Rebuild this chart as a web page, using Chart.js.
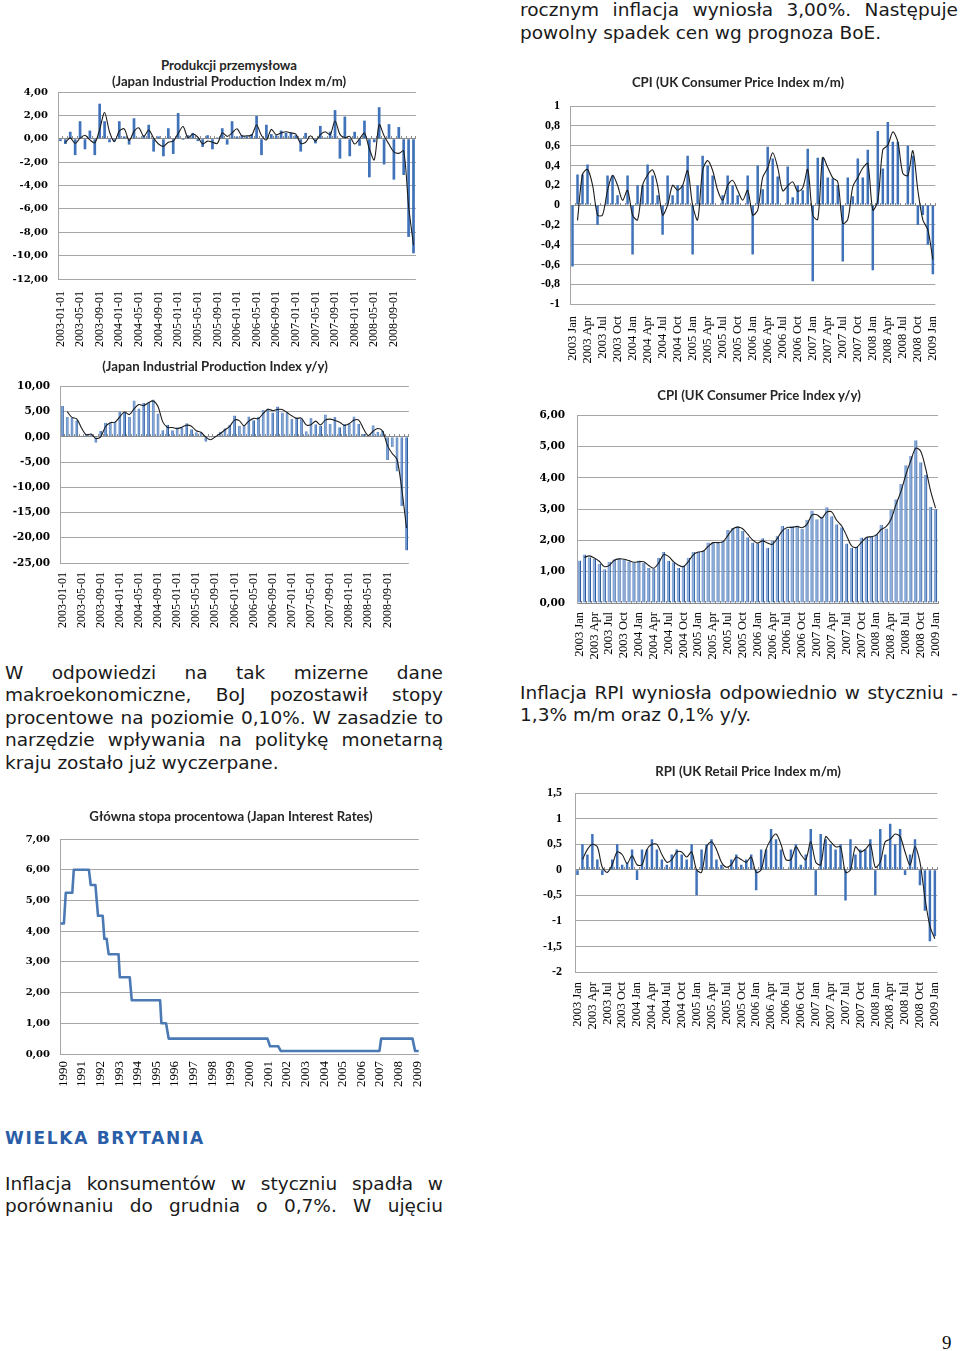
<!DOCTYPE html>
<html><head><meta charset="utf-8">
<script src="https://cdn.jsdelivr.net/npm/chart.js@4.4.1/dist/chart.umd.min.js"></script>
<style>
html,body{margin:0;padding:0;background:#fff;width:960px;height:1351px;overflow:hidden;position:relative;}
canvas{position:absolute;}
.t{position:absolute;font-family:'DejaVu Sans',Verdana,sans-serif;font-size:18.5px;line-height:22.5px;color:#1a1a1a;white-space:nowrap;}
.j{text-align:justify;text-align-last:justify;white-space:normal;}
.ct{position:absolute;font-family:Lato,'Open Sans',sans-serif;font-weight:bold;font-size:13.2px;line-height:16px;color:#262626;white-space:nowrap;transform:translateX(-50%);z-index:2;}
.h{position:absolute;font-family:'DejaVu Sans',Verdana,sans-serif;font-weight:bold;font-size:17px;line-height:22.5px;letter-spacing:1.7px;color:#2a5ea8;}
.pn{position:absolute;font-family:'Liberation Serif','Times New Roman',serif;font-size:19px;line-height:22px;color:#111;}
</style></head>
<body>
<div class="t j" style="left:520px;top:-1px;width:438px;">rocznym inflacja wyniosła 3,00%. Następuje</div>
<div class="t" style="left:520px;top:21.5px;">powolny spadek cen wg prognoza BoE.</div>

<div class="t j" style="left:5px;top:661.5px;width:438px;">W odpowiedzi na tak mizerne dane</div>
<div class="t j" style="left:5px;top:684px;width:438px;">makroekonomiczne, BoJ pozostawił stopy</div>
<div class="t j" style="left:5px;top:706.5px;width:438px;">procentowe na poziomie 0,10%. W zasadzie to</div>
<div class="t j" style="left:5px;top:729px;width:438px;">narzędzie wpływania na politykę monetarną</div>
<div class="t" style="left:5px;top:751.5px;">kraju zostało już wyczerpane.</div>

<div class="t j" style="left:520px;top:681.5px;width:438px;">Inflacja RPI wyniosła odpowiednio w styczniu -</div>
<div class="t" style="left:520px;top:704px;">1,3% m/m oraz 0,1% y/y.</div>

<div class="h" style="left:5px;top:1127px;">WIELKA BRYTANIA</div>
<div class="t j" style="left:5px;top:1172.5px;width:438px;">Inflacja konsumentów w styczniu spadła w</div>
<div class="t j" style="left:5px;top:1195px;width:438px;">porównaniu do grudnia o 0,7%. W ujęciu</div>
<div class="pn" style="left:942px;top:1332px;">9</div>

<div class="ct" style="left:229px;top:57px;">Produkcji przemysłowa</div>
<div class="ct" style="left:229px;top:73px;">(Japan Industrial Production Index m/m)</div>
<div class="ct" style="left:215px;top:358px;">(Japan Industrial Production Index y/y)</div>
<div class="ct" style="left:231px;top:808px;">Główna stopa procentowa (Japan Interest Rates)</div>
<div class="ct" style="left:738px;top:74px;">CPI (UK Consumer Price Index m/m)</div>
<div class="ct" style="left:759px;top:387px;">CPI (UK Consumer Price Index y/y)</div>
<div class="ct" style="left:748px;top:763px;">RPI (UK Retail Price Index m/m)</div>

<canvas id="c1"></canvas>
<canvas id="c2"></canvas>
<canvas id="c3"></canvas>
<canvas id="c4"></canvas>
<canvas id="c5"></canvas>
<canvas id="c6"></canvas>

<script>
// ---------- DATA ----------
const jpTickLabels = ['2003-01-01','2003-05-01','2003-09-01','2004-01-01','2004-05-01','2004-09-01','2005-01-01','2005-05-01','2005-09-01','2006-01-01','2006-05-01','2006-09-01','2007-01-01','2007-05-01','2007-09-01','2008-01-01','2008-05-01','2008-09-01'];
const ukTickLabels = ['2003 Jan','2003 Apr','2003 Jul','2003 Oct','2004 Jan','2004 Apr','2004 Jul','2004 Oct','2005 Jan','2005 Apr','2005 Jul','2005 Oct','2006 Jan','2006 Apr','2006 Jul','2006 Oct','2007 Jan','2007 Apr','2007 Jul','2007 Oct','2008 Jan','2008 Apr','2008 Jul','2008 Oct','2009 Jan'];
const monthNames = ['Jan','Feb','Mar','Apr','May','Jun','Jul','Aug','Sep','Oct','Nov','Dec'];

// Japan Industrial Production Index m/m, 2003-01 .. 2009-01
const jpIndustrialMoM = [-0.2,-0.45,0.6,-1.4,1.5,-0.9,0.7,-1.4,3.0,1.5,-0.3,-0.2,1.5,0.2,-0.5,1.75,0.1,0.3,1.2,-1.1,0.2,-1.5,0.9,-1.3,2.2,-0.1,0.3,0.5,-0.2,-0.7,0.3,-0.9,0.1,0.9,-0.5,1.5,0.2,0.3,0.2,0.4,1.95,-1.4,1.2,0.4,0.3,0.7,0.5,0.5,0.3,-1.1,0.5,0.0,-0.4,1.1,0.1,0.6,2.45,-1.7,1.9,-1.5,0.6,-0.6,1.55,-3.3,-0.3,2.7,-2.2,1.25,-3.5,1.0,-3.1,-8.4,-9.8];
// Japan Industrial Production Index y/y, 2003-01 .. 2009-01
const jpIndustrialYoY = [6.1,3.9,3.8,3.3,0.2,0.6,0.5,-1.2,1.2,2.8,2.8,3.0,4.9,4.9,3.9,7.2,5.6,6.7,6.8,7.4,4.6,1.3,2.4,1.3,1.9,1.9,2.7,1.5,0.9,0.9,-1.0,-0.2,0.2,1.0,1.7,2.4,4.2,2.2,2.2,4.0,3.3,3.9,5.3,5.6,4.8,6.0,4.8,4.8,3.5,3.8,3.6,1.1,3.7,2.5,2.2,4.4,2.6,3.9,1.9,2.6,2.6,4.0,2.6,0.6,-0.1,2.3,1.0,1.2,-4.6,-2.0,-6.9,-13.7,-22.5];
// Japan interest rate: change points (decimal year) and rate values
const rateYears  = [1989.86,1990.04,1990.14,1990.49,1990.57,1991.38,1991.48,1991.73,1991.87,1992.12,1992.21,1992.33,1992.44,1992.97,1993.04,1993.57,1993.68,1995.20,1995.27,1995.52,1995.66,2000.96,2001.10,2001.54,2001.67,2006.97,2007.06,2008.74,2008.88,2009.08];
const rateValues = [4.25,4.25,5.25,5.25,6.00,6.00,5.50,5.50,4.50,4.50,3.75,3.75,3.25,3.25,2.50,2.50,1.75,1.75,1.00,1.00,0.50,0.50,0.25,0.25,0.10,0.10,0.50,0.50,0.10,0.10];
const rateTickYears = [1990,1991,1992,1993,1994,1995,1996,1997,1998,1999,2000,2001,2002,2003,2004,2005,2006,2007,2008,2009];
// UK CPI m/m, 2003 Jan .. 2009 Jan
const ukCpiMoM = [-0.62,0.31,0.31,0.41,0.0,-0.2,0.0,0.3,0.3,0.1,0.0,0.3,-0.5,0.2,0.2,0.41,0.3,0.1,-0.3,0.3,0.1,0.2,0.2,0.5,-0.5,0.2,0.5,0.4,0.3,0.0,0.1,0.3,0.2,0.1,0.0,0.3,-0.5,0.4,0.16,0.59,0.47,0.29,0.0,0.39,0.08,0.2,0.15,0.57,-0.77,0.48,0.48,0.28,0.27,0.2,-0.57,0.28,0.09,0.47,0.28,0.56,-0.66,0.75,0.37,0.84,0.64,0.64,0.0,0.6,0.5,-0.2,-0.1,-0.4,-0.7];
// UK CPI y/y, 2003 Jan .. 2009 Jan
const ukCpiYoY = [1.36,1.55,1.46,1.42,1.25,1.08,1.32,1.4,1.42,1.38,1.33,1.28,1.36,1.28,1.12,1.1,1.45,1.63,1.35,1.3,1.12,1.2,1.45,1.63,1.63,1.68,1.93,1.93,1.93,1.98,2.33,2.4,2.45,2.3,2.1,1.93,1.9,2.07,1.77,1.98,2.15,2.46,2.37,2.46,2.44,2.37,2.66,2.96,2.68,2.75,3.06,2.77,2.52,2.42,1.9,1.76,1.79,2.09,2.1,2.14,2.2,2.5,2.38,2.97,3.32,3.8,4.4,4.7,5.2,4.5,4.1,3.07,3.0];
// UK RPI m/m, 2003 Jan .. 2009 Jan
const ukRpiMoM = [-0.1,0.5,0.3,0.7,0.2,-0.1,0.0,0.2,0.5,0.1,0.15,0.4,-0.2,0.4,0.4,0.6,0.4,0.2,0.1,0.3,0.4,0.3,0.2,0.5,-0.5,0.4,0.5,0.6,0.2,0.1,0.0,0.2,0.3,0.1,0.2,0.3,-0.4,0.4,0.4,0.8,0.6,0.4,0.0,0.4,0.5,0.1,0.3,0.8,-0.5,0.7,0.6,0.5,0.4,0.5,-0.6,0.6,0.3,0.4,0.4,0.6,-0.5,0.8,0.3,0.9,0.5,0.8,-0.1,0.3,0.6,-0.3,-0.8,-1.4,-1.3];

// ---------- categories ----------
const jpMonths = [], ukMonths = [];
for (let y = 2003; y <= 2009; y++) {
  for (let m = 1; m <= 12; m++) {
    if (y === 2009 && m > 1) break;
    jpMonths.push(y + '-' + String(m).padStart(2, '0') + '-01');
    ukMonths.push(y + ' ' + monthNames[m - 1]);
  }
}

// 2-period moving-average trendline (as in the original spreadsheet charts)
function movingAverage2(v) { return v.map((x, i) => i === 0 ? null : (v[i - 1] + x) / 2); }

const fmt2 = v => v.toFixed(2).replace('.', ',');
const fmtShort = v => String(Math.round(v * 10) / 10).replace('.', ',');
const GRID = '#a6a6a6';

function place(id, b) {
  const cv = document.getElementById(id);
  cv.width = b.w; cv.height = b.h;
  cv.style.left = b.l + 'px'; cv.style.top = b.t + 'px';
  return cv;
}

function barChart(id, b, o) {
  const cv = place(id, b);
  const tickSet = new Set(o.tickLabels);
  return new Chart(cv, {
    type: 'bar',
    data: {
      labels: o.labels,
      datasets: [
        { type: 'line', data: movingAverage2(o.values), borderColor: '#1c1c1c', borderWidth: 1.1,
          pointRadius: 0, tension: 0.3, order: 0 },
        { type: 'bar', data: o.values, backgroundColor: o.barColor, borderColor: o.barBorder || o.barColor,
          borderWidth: o.barBorderWidth || 0, barPercentage: o.barPct, categoryPercentage: 1, order: 1 }
      ]
    },
    options: {
      responsive: false, animation: false, events: [],
      layout: { padding: { left: 0, right: b.padR, top: 0, bottom: 0 } },
      plugins: { legend: { display: false }, tooltip: { enabled: false }, title: { display: false } },
      scales: {
        x: {
          grid: { display: false, drawTicks: false }, border: { display: false },
          ticks: { autoSkip: false, maxRotation: 90, minRotation: 90, padding: o.xPad, font: o.xFont, color: '#000',
                   callback: (v, i) => tickSet.has(o.labels[i]) ? o.labels[i] : '' },
          afterFit: s => { s.height = b.xH; }
        },
        x0: {
          type: 'category', position: { y: 0 }, offset: true,
          grid: { display: true, drawOnChartArea: false, drawTicks: true, tickLength: -3, color: '#8c8c8c', offset: true },
          border: { display: true, color: '#8c8c8c' },
          ticks: { display: false, autoSkip: false }
        },
        y: {
          min: o.min, max: o.max,
          ticks: { stepSize: o.step, padding: o.yPad, font: o.yFont, color: '#000', callback: o.fmt },
          grid: { color: GRID, drawTicks: false }, border: { display: true, color: GRID },
          afterFit: s => { s.width = b.yW; }
        }
      }
    }
  });
}

const jpXFont = { family: "'Liberation Serif', serif", size: 12 };
const ukXFont = { family: "'Liberation Serif', serif", size: 12.5 };
const serifBold = (sz) => ({ family: "'DejaVu Serif', serif", size: sz, weight: 'bold' });
const libBold = (sz) => ({ family: "'Liberation Serif', serif", size: sz, weight: 'bold' });

barChart('c1', { l: 0, t: 76, w: 440, h: 272, padR: 15, yW: 58, xH: 69 }, {
  labels: jpMonths, tickLabels: jpTickLabels, values: jpIndustrialMoM,
  min: -12, max: 4, step: 2, fmt: fmt2, yFont: serifBold(10), yPad: 10, xFont: jpXFont, xPad: 12,
  barColor: '#3f72b8', barPct: 0.55
});

barChart('c2', { l: 0, t: 370, w: 430, h: 262, padR: 12, yW: 60, xH: 69 }, {
  labels: jpMonths, tickLabels: jpTickLabels, values: jpIndustrialYoY,
  min: -25, max: 10, step: 5, fmt: fmt2, yFont: serifBold(10.5), yPad: 10, xFont: jpXFont, xPad: 9,
  barColor: '#6f98d0', barBorder: '#2f5c9c', barBorderWidth: { left: 0, right: 1, top: 0, bottom: 0 }, barPct: 0.62
});

barChart('c4', { l: 520, t: 89, w: 440, h: 275, padR: 20, yW: 50, xH: 60 }, {
  labels: ukMonths, tickLabels: ukTickLabels, values: ukCpiMoM,
  min: -1, max: 1, step: 0.2, fmt: fmtShort, yFont: libBold(12), yPad: 10, xFont: ukXFont, xPad: 12,
  barColor: '#3f72b8', barPct: 0.5
});

barChart('c5', { l: 520, t: 397, w: 440, h: 265, padR: 22, yW: 57, xH: 59 }, {
  labels: ukMonths, tickLabels: ukTickLabels, values: ukCpiYoY,
  min: 0, max: 6, step: 1, fmt: fmt2, yFont: serifBold(10.5), yPad: 12, xFont: ukXFont, xPad: 9,
  barColor: '#86a9d9', barBorder: '#2d5a9a', barBorderWidth: { left: 0, right: 1.2, top: 0, bottom: 0 }, barPct: 0.7
});

barChart('c6', { l: 520, t: 773, w: 440, h: 257, padR: 22, yW: 55, xH: 58 }, {
  labels: ukMonths, tickLabels: ukTickLabels, values: ukRpiMoM,
  min: -2, max: 1.5, step: 0.5, fmt: fmtShort, yFont: libBold(12), yPad: 13, xFont: ukXFont, xPad: 10,
  barColor: '#3f72b8', barPct: 0.5
});

// Japan interest rates (line)
(function () {
  const b = { l: 0, t: 823, w: 440, h: 272, padR: 17, yW: 60, xH: 41 };
  const cv = place('c3', b);
  new Chart(cv, {
    type: 'line',
    data: { datasets: [{
      data: rateYears.map((x, i) => ({ x: x, y: rateValues[i] })),
      borderColor: '#4a79b4', borderWidth: 2.6, pointRadius: 0, tension: 0, borderJoinStyle: 'round'
    }] },
    options: {
      responsive: false, animation: false, events: [],
      layout: { padding: { left: 0, right: b.padR, top: 0, bottom: 0 } },
      plugins: { legend: { display: false }, tooltip: { enabled: false } },
      scales: {
        x: {
          type: 'linear', min: 1989.83, max: 2009.08,
          afterBuildTicks: s => { s.ticks = rateTickYears.map(v => ({ value: v })); },
          grid: { display: false, drawTicks: false }, border: { display: false },
          ticks: { autoSkip: false, maxRotation: 90, minRotation: 90, padding: 7, color: '#000',
                   font: { family: "'Liberation Serif', serif", size: 13 }, callback: v => String(v) },
          afterFit: s => { s.height = b.xH; }
        },
        y: {
          min: 0, max: 7,
          ticks: { stepSize: 1, padding: 10, color: '#000', font: serifBold(10), callback: fmt2 },
          grid: { color: GRID, drawTicks: false }, border: { display: true, color: GRID },
          afterFit: s => { s.width = b.yW; }
        }
      }
    }
  });
})();
</script>
</body></html>
